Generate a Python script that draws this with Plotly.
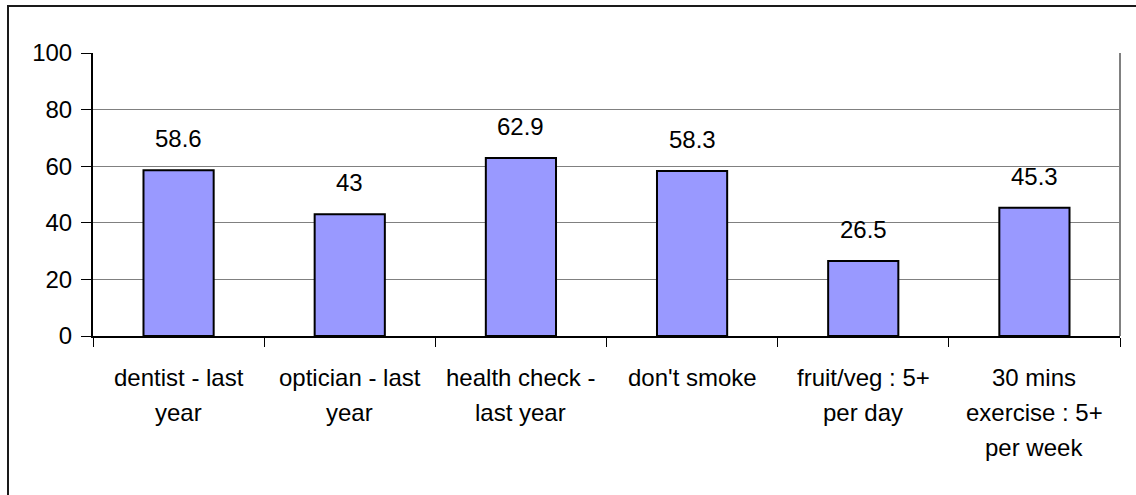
import plotly.graph_objects as go

# Survey results: share of respondents (%) for each health behaviour
categories = [
    "dentist - last<br>year",
    "optician - last<br>year",
    "health check -<br>last year",
    "don't smoke",
    "fruit/veg : 5+<br>per day",
    "30 mins<br>exercise : 5+<br>per week",
]
values = [58.6, 43, 62.9, 58.3, 26.5, 45.3]
y_ticks = [0, 20, 40, 60, 80, 100]

FONT = "Liberation Sans, Arial, sans-serif"
FS = 24
LINE_GAP = 35  # pixel spacing between lines of a category label

W, H = 1136, 495
L, R, T, B = 93, 16, 53, 159

fig = go.Figure(
    go.Bar(
        x=categories,
        y=values,
        marker=dict(color="#9999FF", line=dict(color="#000000", width=2)),
        hoverinfo="y",
    )
)

# value labels above each bar
for c, v in zip(categories, values):
    fig.add_annotation(
        x=c, y=v, text=f"{v:g}", showarrow=False,
        yanchor="bottom", yshift=16,
        font=dict(family=FONT, size=FS, color="#000000"),
    )

# category labels under the axis, one annotation per line for wider leading
for c in categories:
    for i, line in enumerate(c.split("<br>")):
        fig.add_annotation(
            x=c, y=0, text=line, showarrow=False,
            yanchor="middle", yshift=-(41 + LINE_GAP * i),
            font=dict(family=FONT, size=FS, color="#000000"),
        )

# right edge of the plot area
fig.add_shape(type="line", xref="paper", yref="paper", x0=1, x1=1, y0=0, y1=1,
              line=dict(color="#808080", width=2))

# frame around the whole chart
pw, ph = W - L - R, H - T - B
fig.add_shape(type="rect", xref="paper", yref="paper",
              x0=(8 - L) / pw, x1=(W + 10 - L) / pw,
              y0=-(H + 10 - T - ph) / ph, y1=(H - B - 6) / ph,
              line=dict(color="#1a1a1a", width=2), fillcolor="rgba(0,0,0,0)", layer="above")

fig.update_layout(
    width=W, height=H,
    margin=dict(l=L, r=R, t=T, b=B, autoexpand=False),
    paper_bgcolor="#ffffff",
    plot_bgcolor="#ffffff",
    bargap=0.59,
    showlegend=False,
    font=dict(family=FONT, color="#000000"),
)

fig.update_xaxes(
    automargin=False,
    showticklabels=False,
    showline=True, linecolor="#000000", linewidth=2,
    ticks="outside", ticklen=9, tickwidth=1, tickcolor="#000000",
    tickson="boundaries",
    showgrid=False,
)

fig.update_yaxes(
    automargin=False,
    range=[0, 100],
    tickvals=y_ticks,
    showline=True, linecolor="#000000", linewidth=2,
    ticks="outside", ticklen=10, tickwidth=1, tickcolor="#000000",
    tickfont=dict(family=FONT, size=FS, color="#000000"),
    ticklabelstandoff=4,
    showgrid=True, gridcolor="#808080", gridwidth=1,
    zeroline=False,
)

fig.write_html("out.html")
